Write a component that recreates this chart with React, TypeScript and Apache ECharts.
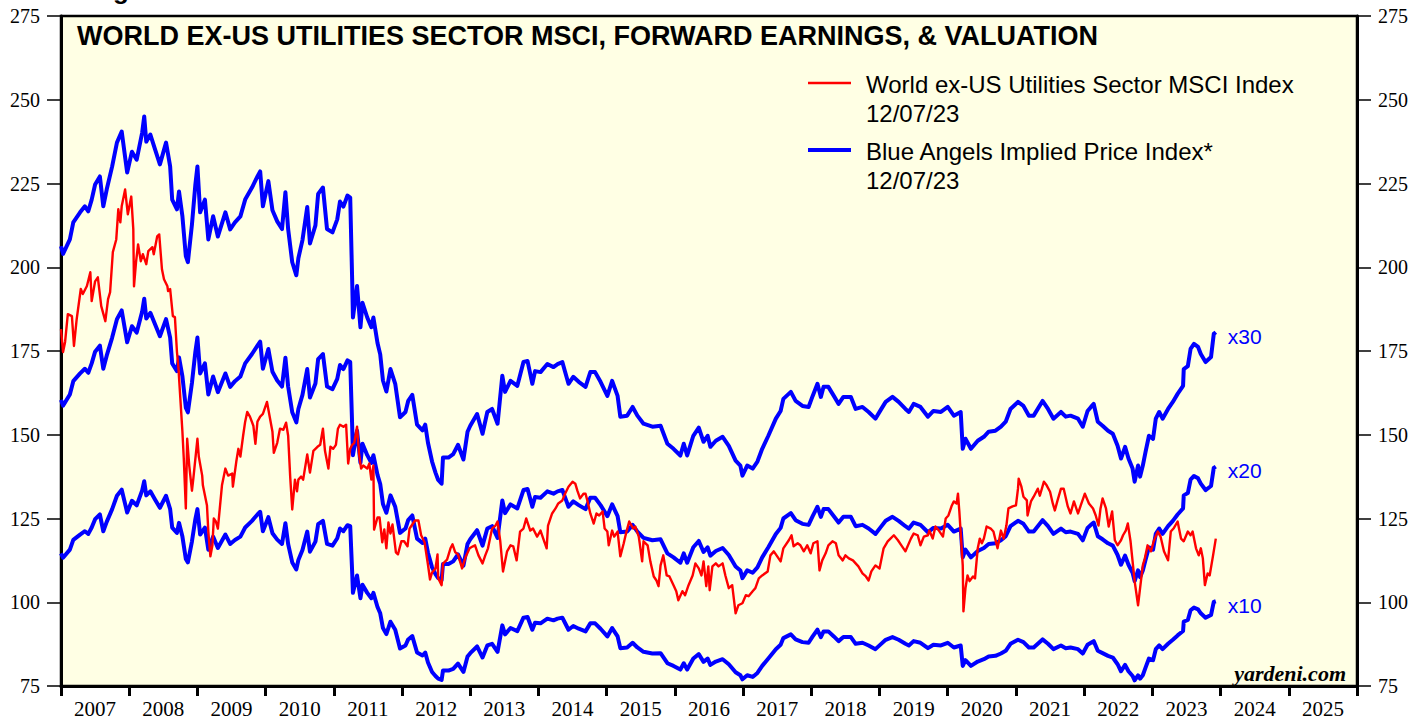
import React, { useEffect, useRef } from "react";
import * as echarts from "echarts";

const titleText = "WORLD EX-US UTILITIES SECTOR MSCI, FORWARD EARNINGS, & VALUATION";
const legendNames = ["World ex-US Utilities Sector MSCI Index", "Blue Angels Implied Price Index*"];
const legendDate = "12/07/23";
const multipleLabels = ["x30", "x20", "x10"];
const yearLabels = ["2007","2008","2009","2010","2011","2012","2013","2014","2015","2016","2017","2018","2019","2020","2021","2022","2023","2024","2025"];
const sourceText = "yardeni.com";

const blueDates = [
2007.00,2007.03,2007.13,2007.18,2007.28,2007.35,2007.40,2007.45,2007.50,2007.57,
2007.62,2007.67,2007.75,2007.82,2007.89,2007.97,2008.04,2008.11,2008.19,2008.22,
2008.25,2008.31,2008.38,2008.45,2008.54,2008.60,2008.63,2008.70,2008.73,2008.78,
2008.83,2008.86,2008.92,2008.97,2009.00,2009.04,2009.11,2009.16,2009.23,2009.30,
2009.41,2009.48,2009.55,2009.63,2009.70,2009.80,2009.88,2009.92,2009.96,2010.04,
2010.10,2010.17,2010.24,2010.29,2010.33,2010.39,2010.45,2010.48,2010.54,2010.61,
2010.65,2010.73,2010.77,2010.84,2010.90,2010.98,2011.05,2011.09,2011.14,2011.20,
2011.24,2011.27,2011.28,2011.34,2011.39,2011.42,2011.49,2011.55,2011.58,2011.64,
2011.68,2011.72,2011.77,2011.83,2011.90,2011.97,2012.05,2012.09,2012.15,2012.22,
2012.30,2012.34,2012.38,2012.44,2012.49,2012.53,2012.58,2012.60,2012.68,2012.75,
2012.82,2012.90,2012.96,2013.00,2013.10,2013.18,2013.25,2013.32,2013.40,2013.47,
2013.51,2013.59,2013.69,2013.78,2013.84,2013.91,2013.95,2014.03,2014.13,2014.22,
2014.28,2014.35,2014.39,2014.44,2014.51,2014.59,2014.69,2014.76,2014.83,2014.91,
2015.01,2015.08,2015.16,2015.20,2015.30,2015.38,2015.45,2015.54,2015.67,2015.79,
2015.89,2015.98,2016.08,2016.13,2016.18,2016.27,2016.35,2016.42,2016.48,2016.52,
2016.60,2016.70,2016.79,2016.89,2016.96,2016.99,2017.06,2017.14,2017.21,2017.28,
2017.37,2017.48,2017.55,2017.59,2017.70,2017.77,2017.87,2017.96,2018.02,2018.09,
2018.14,2018.18,2018.25,2018.33,2018.40,2018.47,2018.58,2018.65,2018.75,2018.84,
2018.94,2019.02,2019.09,2019.19,2019.28,2019.38,2019.43,2019.50,2019.60,2019.71,
2019.79,2019.90,2020.00,2020.09,2020.19,2020.22,2020.26,2020.34,2020.44,2020.53,
2020.60,2020.70,2020.78,2020.85,2020.92,2021.03,2021.11,2021.19,2021.26,2021.39,
2021.47,2021.55,2021.66,2021.73,2021.80,2021.91,2021.98,2022.05,2022.10,2022.14,
2022.20,2022.27,2022.35,2022.42,2022.49,2022.54,2022.60,2022.65,2022.71,2022.74,
2022.79,2022.82,2022.86,2022.90,2022.95,2023.01,2023.05,2023.10,2023.15,2023.23,
2023.30,2023.37,2023.45,2023.46,2023.52,2023.56,2023.61,2023.67,2023.71,2023.78,
2023.86,2023.90,2023.93
];

const x30Values = [
206.3,204.0,208.3,213.4,216.4,218.2,216.7,220.2,224.7,227.1,
218.2,223.2,230.1,237.2,240.5,228.3,234.5,232.1,240.2,245.0,
237.5,239.6,235.1,230.7,237.2,230.1,220.2,217.3,222.6,215.2,
203.3,201.5,212.8,224.7,230.1,216.4,220.2,208.3,215.2,209.2,
216.4,211.3,213.4,215.2,220.2,223.8,227.1,228.6,218.2,225.7,
217.0,213.7,211.4,222.4,211.4,201.5,197.6,202.7,208.1,218.0,
207.1,212.5,221.9,223.8,211.4,210.4,214.3,219.6,218.1,221.4,
220.8,195.0,185.0,194.4,182.1,189.4,185.0,182.1,185.0,177.4,
174.0,166.2,162.9,169.6,165.2,155.2,156.8,160.1,161.9,153.0,
151.3,153.0,147.6,142.0,138.7,136.5,135.4,143.2,143.2,144.2,
147.0,142.6,150.9,152.7,156.2,150.3,156.8,157.7,153.3,167.6,
162.8,166.1,164.6,171.7,172.0,165.2,169.0,168.7,171.1,170.2,
171.1,171.7,168.8,165.2,167.3,165.8,164.3,168.7,168.7,165.8,
161.6,166.1,161.6,155.4,155.7,158.3,155.7,153.3,152.4,152.7,
147.3,145.8,143.8,147.3,143.8,149.7,152.1,147.9,149.7,146.4,
148.2,149.4,146.7,142.3,140.8,137.8,140.8,139.9,142.0,145.8,
149.7,154.8,157.1,160.7,162.8,160.1,158.6,158.3,161.6,165.2,
161.3,164.3,164.3,161.6,159.2,161.3,161.3,157.7,158.3,156.8,
154.8,157.5,159.8,161.3,159.8,157.7,156.8,159.2,158.3,155.4,
157.1,156.8,158.3,155.7,156.8,145.8,148.8,145.8,148.2,149.4,
150.9,151.2,152.4,153.9,157.7,159.8,158.6,155.7,155.7,160.1,
157.7,154.8,156.8,155.4,155.7,154.8,152.4,157.1,158.3,159.2,
153.9,152.7,151.2,150.3,146.7,142.9,146.4,142.9,139.9,136.0,
140.8,137.5,140.8,144.9,149.7,148.8,154.8,156.8,154.8,157.7,
159.8,162.2,164.6,169.6,170.5,175.6,177.1,176.2,174.1,171.7,
173.2,180.1,180.6
];

const x20Values = [
160.4,158.7,162.0,166.0,168.3,169.7,168.5,171.3,174.8,176.6,
169.7,173.6,179.0,184.5,187.1,177.6,182.4,180.5,186.8,190.6,
184.7,186.4,182.9,179.4,184.5,179.0,171.3,169.0,173.1,167.4,
158.1,156.7,165.5,174.8,179.0,168.3,171.3,162.0,167.4,162.7,
168.3,164.3,166.0,167.4,171.3,174.1,176.6,177.8,169.7,175.6,
168.8,166.2,164.4,173.0,164.4,156.7,153.7,157.7,161.9,169.6,
161.1,165.3,172.6,174.1,164.4,163.6,166.7,170.8,169.6,172.2,
171.7,151.7,143.9,151.2,141.6,147.3,143.9,141.6,143.9,138.0,
135.3,129.3,126.7,131.9,128.5,120.7,122.0,124.5,125.9,119.0,
117.7,119.0,114.8,110.4,108.4,107.2,106.6,111.4,111.4,112.2,
114.3,110.9,117.4,118.8,121.5,116.9,122.0,122.7,119.2,130.4,
126.6,129.2,128.0,133.5,133.8,128.5,131.4,131.2,133.1,132.4,
133.1,133.5,131.3,128.5,130.1,129.0,127.8,131.2,131.2,129.0,
125.7,129.2,125.7,120.9,121.1,123.1,121.1,119.2,118.5,118.8,
114.6,113.4,111.8,114.6,111.8,116.4,118.3,115.0,116.4,113.9,
115.3,116.2,114.1,110.7,109.5,107.2,109.5,108.8,110.4,113.4,
116.4,120.4,122.2,125.0,126.6,124.5,123.4,123.1,125.7,128.5,
125.5,127.8,127.8,125.7,123.8,125.5,125.5,122.7,123.1,122.0,
120.4,122.5,124.3,125.5,124.3,122.7,122.0,123.8,123.1,120.9,
122.2,122.0,123.1,121.1,122.0,113.4,115.7,113.4,115.3,116.2,
117.4,117.6,118.5,119.7,122.7,124.3,123.4,121.1,121.1,124.5,
122.7,120.4,122.0,120.9,121.1,120.4,118.5,122.2,123.1,123.8,
119.7,118.8,117.6,116.9,114.1,111.2,113.9,111.2,108.8,106.3,
109.5,107.5,109.5,112.7,116.4,115.7,120.4,122.0,120.4,122.7,
124.3,126.2,128.0,131.9,132.6,136.6,137.7,137.0,135.4,133.5,
134.7,140.1,140.5
];

const x10Values = [
114.6,113.3,115.7,118.6,120.2,121.2,120.4,122.3,124.8,126.2,
121.2,124.0,127.8,131.8,133.6,126.8,130.3,128.9,133.4,136.1,
131.9,133.1,130.6,128.2,131.8,127.8,122.3,120.7,123.7,119.6,
112.9,111.9,118.2,124.8,127.8,120.2,122.3,115.7,119.6,116.2,
120.2,117.4,118.6,119.6,122.3,124.3,126.2,127.0,121.2,125.4,
120.6,118.7,117.4,123.6,117.4,111.9,109.8,112.6,115.6,121.1,
115.1,118.1,123.3,124.3,117.4,116.9,119.1,122.0,121.2,123.0,
122.7,108.3,102.8,108.0,101.2,105.2,102.8,101.2,102.8,98.6,
96.7,92.3,90.5,94.2,91.8,86.2,87.1,88.9,89.9,85.0,
84.1,85.0,82.0,79.2,78.0,77.2,76.8,79.6,79.6,80.1,
81.7,79.2,83.8,84.8,86.8,83.5,87.1,87.6,85.2,93.1,
90.4,92.3,91.4,95.4,95.6,91.8,93.9,93.7,95.1,94.6,
95.1,95.4,93.8,91.8,92.9,92.1,91.3,93.7,93.7,92.1,
89.8,92.3,89.8,86.3,86.5,87.9,86.5,85.2,84.7,84.8,
81.8,81.0,79.9,81.8,79.9,83.2,84.5,82.2,83.2,81.3,
82.3,83.0,81.5,79.1,78.2,77.0,78.2,77.7,78.9,81.0,
83.2,86.0,87.3,89.3,90.4,88.9,88.1,87.9,89.8,91.8,
89.6,91.3,91.3,89.8,88.4,89.6,89.6,87.6,87.9,87.1,
86.0,87.5,88.8,89.6,88.8,87.6,87.1,88.4,87.9,86.3,
87.3,87.1,87.9,86.5,87.1,81.0,82.7,81.0,82.3,83.0,
83.8,84.0,84.7,85.5,87.6,88.8,88.1,86.5,86.5,88.9,
87.6,86.0,87.1,86.3,86.5,86.0,84.7,87.3,87.9,88.4,
85.5,84.8,84.0,83.5,81.5,79.4,81.3,79.4,78.0,76.7,
78.2,77.2,78.2,80.5,83.2,82.7,86.0,87.1,86.0,87.6,
88.8,90.1,91.4,94.2,94.7,97.6,98.4,97.9,96.7,95.4,
96.2,100.1,100.3
];

// [decimal year, index value]
const msciIndex: [number, number][] = [
[2007.00,181.5],[2007.03,174.7],[2007.06,177.7],[2007.10,186.0],[2007.16,185.4],[2007.19,176.5],[2007.23,184.5],[2007.29,193.5],[2007.32,192.0],[2007.38,194.4],
[2007.43,198.5],[2007.45,189.9],[2007.50,195.8],[2007.54,197.0],[2007.59,188.4],[2007.65,183.9],[2007.69,190.5],[2007.72,192.6],[2007.76,204.5],[2007.81,208.3],
[2007.84,217.3],[2007.87,213.4],[2007.89,218.2],[2007.94,223.2],[2007.98,215.8],[2008.03,221.1],[2008.06,211.3],[2008.07,194.3],[2008.10,201.5],[2008.13,206.8],
[2008.17,201.8],[2008.20,203.9],[2008.25,200.9],[2008.28,204.8],[2008.34,206.0],[2008.36,203.9],[2008.41,209.2],[2008.44,209.8],[2008.48,199.4],[2008.51,196.4],
[2008.56,194.3],[2008.57,192.9],[2008.60,193.5],[2008.64,185.4],[2008.67,185.1],[2008.70,174.7],[2008.72,170.5],[2008.75,160.7],[2008.78,150.9],[2008.80,142.9],
[2008.83,128.0],[2008.85,148.8],[2008.88,140.8],[2008.92,133.3],[2008.94,136.9],[2009.00,148.8],[2009.02,143.5],[2009.07,137.8],[2009.08,134.9],[2009.14,128.9],
[2009.16,121.1],[2009.19,113.7],[2009.22,117.0],[2009.24,125.0],[2009.27,124.1],[2009.30,122.0],[2009.36,134.9],[2009.41,139.9],[2009.45,137.8],[2009.51,138.4],
[2009.52,134.5],[2009.57,142.0],[2009.60,145.8],[2009.63,143.5],[2009.67,149.7],[2009.70,153.9],[2009.73,156.8],[2009.77,155.4],[2009.82,152.7],[2009.85,147.3],
[2009.88,153.9],[2009.92,155.4],[2009.96,156.2],[2010.02,159.8],[2010.10,150.9],[2010.12,144.6],[2010.17,147.6],[2010.21,151.8],[2010.26,151.5],[2010.30,153.6],
[2010.33,149.7],[2010.36,137.5],[2010.39,127.7],[2010.43,136.6],[2010.46,133.1],[2010.48,136.6],[2010.52,137.5],[2010.55,136.6],[2010.61,144.1],[2010.65,138.7],
[2010.70,145.2],[2010.76,146.4],[2010.80,147.0],[2010.84,151.8],[2010.87,145.2],[2010.92,139.9],[2010.95,146.4],[2010.99,145.8],[2011.03,147.0],[2011.06,151.8],
[2011.09,153.0],[2011.14,152.4],[2011.18,153.0],[2011.21,141.4],[2011.24,145.8],[2011.27,147.0],[2011.30,147.6],[2011.34,152.4],[2011.37,144.1],[2011.40,139.9],
[2011.43,140.8],[2011.49,139.9],[2011.52,141.4],[2011.55,136.6],[2011.58,140.8],[2011.59,121.7],[2011.64,125.3],[2011.67,125.3],[2011.71,117.9],[2011.74,121.7],
[2011.77,116.1],[2011.80,123.8],[2011.83,120.5],[2011.86,123.2],[2011.91,114.9],[2011.94,114.3],[2011.99,118.2],[2012.03,118.2],[2012.08,116.7],[2012.11,122.0],
[2012.15,123.2],[2012.19,124.4],[2012.24,124.4],[2012.28,120.0],[2012.33,117.9],[2012.38,111.2],[2012.41,106.8],[2012.44,108.9],[2012.49,110.1],[2012.52,114.3],
[2012.53,107.2],[2012.58,105.1],[2012.60,111.5],[2012.66,112.7],[2012.71,116.1],[2012.74,117.3],[2012.78,114.9],[2012.82,114.3],[2012.88,110.1],[2012.93,113.4],
[2012.99,116.1],[2013.04,116.7],[2013.07,117.0],[2013.12,114.0],[2013.18,111.6],[2013.22,114.0],[2013.26,116.1],[2013.32,122.0],[2013.37,122.9],[2013.40,124.1],
[2013.44,118.2],[2013.48,109.2],[2013.54,115.2],[2013.59,117.0],[2013.63,116.7],[2013.68,112.5],[2013.73,121.1],[2013.78,122.0],[2013.82,125.0],[2013.88,121.4],
[2013.92,122.0],[2013.98,119.6],[2014.03,121.4],[2014.07,119.0],[2014.12,116.1],[2014.14,122.9],[2014.20,126.5],[2014.25,128.0],[2014.29,129.5],[2014.35,130.4],
[2014.39,132.4],[2014.44,134.5],[2014.50,136.0],[2014.54,135.4],[2014.57,133.3],[2014.61,131.0],[2014.66,132.4],[2014.69,132.4],[2014.72,130.1],[2014.76,126.5],
[2014.81,123.5],[2014.85,126.5],[2014.89,125.9],[2014.94,127.1],[2014.97,122.0],[2015.01,121.1],[2015.03,117.0],[2015.08,121.4],[2015.11,119.6],[2015.16,121.1],
[2015.20,113.7],[2015.25,117.6],[2015.29,121.1],[2015.33,124.1],[2015.39,122.0],[2015.42,122.6],[2015.47,119.6],[2015.48,118.2],[2015.52,112.2],[2015.54,118.2],
[2015.60,117.0],[2015.64,112.2],[2015.69,107.7],[2015.73,106.5],[2015.76,104.8],[2015.79,111.0],[2015.83,114.0],[2015.88,108.0],[2015.92,107.7],[2015.98,105.1],
[2016.02,103.3],[2016.05,100.6],[2016.11,103.3],[2016.15,102.1],[2016.20,105.1],[2016.26,108.0],[2016.30,111.6],[2016.35,110.1],[2016.39,108.0],[2016.42,112.2],
[2016.46,104.8],[2016.49,110.7],[2016.51,103.6],[2016.55,110.7],[2016.60,111.6],[2016.64,110.7],[2016.70,111.6],[2016.74,108.0],[2016.79,104.2],[2016.84,105.1],
[2016.89,96.7],[2016.93,99.1],[2016.99,99.7],[2017.04,102.1],[2017.08,101.8],[2017.14,103.3],[2017.18,104.2],[2017.23,107.1],[2017.28,108.0],[2017.36,109.2],
[2017.40,114.0],[2017.45,115.2],[2017.50,113.7],[2017.55,112.2],[2017.59,116.1],[2017.67,118.5],[2017.71,120.0],[2017.74,116.7],[2017.80,117.6],[2017.84,117.0],
[2017.89,115.2],[2017.94,117.0],[2017.99,114.6],[2018.03,117.6],[2018.09,118.2],[2018.12,109.5],[2018.16,112.5],[2018.21,114.6],[2018.25,117.0],[2018.31,118.2],
[2018.36,117.6],[2018.40,114.0],[2018.46,112.5],[2018.50,114.0],[2018.55,113.1],[2018.61,112.5],[2018.65,111.6],[2018.69,110.7],[2018.75,108.6],[2018.80,107.7],
[2018.84,106.5],[2018.88,109.2],[2018.94,111.0],[2019.00,110.1],[2019.06,116.1],[2019.12,118.2],[2019.16,119.0],[2019.21,120.0],[2019.27,118.5],[2019.32,117.0],
[2019.38,115.2],[2019.46,119.0],[2019.50,120.5],[2019.56,120.0],[2019.60,117.0],[2019.65,119.6],[2019.71,120.0],[2019.73,121.4],[2019.78,119.0],[2019.82,122.6],
[2019.87,121.4],[2019.93,119.6],[2019.97,125.0],[2020.01,125.9],[2020.06,128.9],[2020.09,130.1],[2020.13,129.5],[2020.15,132.4],[2020.17,127.1],[2020.22,111.0],
[2020.23,97.3],[2020.26,104.2],[2020.29,108.0],[2020.32,106.3],[2020.37,107.7],[2020.40,107.1],[2020.44,116.1],[2020.47,119.0],[2020.50,117.6],[2020.53,119.0],
[2020.57,122.6],[2020.63,122.0],[2020.67,121.1],[2020.73,116.1],[2020.78,121.4],[2020.82,119.0],[2020.86,122.9],[2020.89,128.0],[2020.95,128.6],[2021.00,128.9],
[2021.03,133.9],[2021.04,136.9],[2021.08,134.5],[2021.11,131.5],[2021.16,130.4],[2021.17,125.9],[2021.22,130.1],[2021.26,131.5],[2021.32,133.9],[2021.35,131.8],
[2021.41,136.0],[2021.45,134.9],[2021.50,133.0],[2021.54,129.5],[2021.57,127.4],[2021.61,130.4],[2021.66,133.9],[2021.70,133.9],[2021.76,128.6],[2021.80,126.5],
[2021.85,130.1],[2021.91,126.5],[2021.95,128.9],[2022.01,132.4],[2022.07,129.5],[2022.13,128.0],[2022.17,125.9],[2022.21,122.9],[2022.24,128.0],[2022.27,131.0],
[2022.32,128.0],[2022.36,122.6],[2022.41,127.1],[2022.45,118.5],[2022.49,117.0],[2022.54,118.5],[2022.57,120.0],[2022.61,121.4],[2022.64,123.5],[2022.68,118.2],
[2022.71,112.2],[2022.74,106.3],[2022.79,99.1],[2022.82,104.2],[2022.86,111.0],[2022.89,113.1],[2022.93,117.0],[2022.98,115.2],[2023.02,118.2],[2023.08,121.1],
[2023.12,119.6],[2023.17,115.2],[2023.23,112.5],[2023.27,121.1],[2023.31,122.0],[2023.37,124.1],[2023.42,119.0],[2023.46,118.2],[2023.52,121.1],[2023.56,120.0],
[2023.59,121.1],[2023.64,116.1],[2023.68,114.0],[2023.71,116.1],[2023.74,113.1],[2023.77,105.1],[2023.81,108.6],[2023.84,108.0],[2023.89,114.0],[2023.93,119.0]
];

const BLUE = "#0000FF";
const RED = "#FF0000";
const SANS = '"Liberation Sans", Arial, sans-serif';
const SERIF = '"Liberation Serif", "Times New Roman", serif';

function txt(x: number, y: number, text: string, font: string, fill: string, align = "left", valign = "middle") {
  return {
    type: "text",
    x,
    y,
    z: 100,
    silent: true,
    style: { text, font, fill, textAlign: align, align, textVerticalAlign: valign, verticalAlign: valign },
  };
}

export default function App() {
  const ref = useRef<HTMLDivElement>(null);
  useEffect(() => {
    if (!ref.current) return;
    const chart = echarts.init(ref.current, null, { renderer: "svg" });
    const pair = (vals: number[]) => blueDates.map((d, i) => [d, vals[i]]);
    const blueSeries = [x30Values, x20Values, x10Values].map((vals, i) => ({
      name: legendNames[1] + " " + multipleLabels[i],
      type: "line",
      xAxisIndex: 0,
      yAxisIndex: 0,
      data: pair(vals),
      showSymbol: false,
      symbol: "none",
      z: 3,
      lineStyle: { color: BLUE, width: 4, join: "round" },
      endLabel: {
        show: true,
        formatter: multipleLabels[i],
        color: BLUE,
        fontSize: 21,
        fontFamily: SANS,
        distance: 12,
        offset: [0, 4],
      },
    }));
    const option: any = {
      animation: false,
      backgroundColor: "#FFFFFF",
      grid: {
        left: 61,
        right: 70,
        top: 16,
        bottom: 31,
        show: true,
        backgroundColor: "#FFFFE4",
        borderColor: "#000",
        borderWidth: 2.5,
      },
      xAxis: [
        {
          type: "value",
          min: 2007,
          max: 2026,
          interval: 1,
          position: "bottom",
          axisLine: { show: true, lineStyle: { color: "#000", width: 3 } },
          axisTick: { show: true, inside: false, length: 10, lineStyle: { color: "#000", width: 3 } },
          axisLabel: { show: false },
          splitLine: { show: false },
        },
        {
          type: "category",
          data: yearLabels,
          boundaryGap: true,
          position: "bottom",
          axisLine: { show: false },
          axisTick: { show: false },
          axisLabel: { interval: 0, color: "#000", fontFamily: SERIF, fontSize: 21, margin: 12 },
          splitLine: { show: false },
        },
      ],
      yAxis: [
        {
          type: "value",
          min: 75,
          max: 275,
          interval: 25,
          position: "left",
          axisLine: { show: true, lineStyle: { color: "#000", width: 3 } },
          axisTick: { show: true, inside: false, length: 14, lineStyle: { color: "#000", width: 1.5 } },
          axisLabel: { color: "#000", fontFamily: SERIF, fontSize: 20, margin: 21 },
          splitLine: { show: false },
        },
        {
          type: "value",
          min: 75,
          max: 275,
          interval: 25,
          position: "right",
          axisLine: { show: true, lineStyle: { color: "#000", width: 3 } },
          axisTick: { show: true, inside: false, length: 14, lineStyle: { color: "#000", width: 1.5 } },
          axisLabel: { color: "#000", fontFamily: SERIF, fontSize: 20, margin: 21 },
          splitLine: { show: false },
        },
      ],
      series: [
        ...blueSeries,
        {
          name: legendNames[0],
          type: "line",
          xAxisIndex: 0,
          yAxisIndex: 0,
          data: msciIndex,
          showSymbol: false,
          symbol: "none",
          z: 4,
          lineStyle: { color: RED, width: 2.4, join: "round" },
        },
      ],
      graphic: [
        txt(90, 3, "Figure", "bold 26px " + SANS, "#000", "left", "bottom"),
        txt(77, 36, titleText, "bold 27px " + SANS, "#000"),
        { type: "line", z: 100, silent: true, shape: { x1: 808, y1: 83, x2: 851, y2: 83 }, style: { stroke: RED, lineWidth: 2.4 } },
        txt(866, 84, legendNames[0], "24px " + SANS, "#000"),
        txt(866, 113, legendDate, "24px " + SANS, "#000"),
        { type: "line", z: 100, silent: true, shape: { x1: 808, y1: 150, x2: 851, y2: 150 }, style: { stroke: BLUE, lineWidth: 4 } },
        txt(866, 151, legendNames[1], "24px " + SANS, "#000"),
        txt(866, 180, legendDate, "24px " + SANS, "#000"),
        txt(1346, 673, sourceText, "italic bold 22px " + SERIF, "#000", "right"),
      ],
    };
    chart.setOption(option);
    return () => chart.dispose();
  }, []);
  return <div ref={ref} style={{ position: "fixed", left: 0, top: 0, width: 1427, height: 719 }} />;
}
